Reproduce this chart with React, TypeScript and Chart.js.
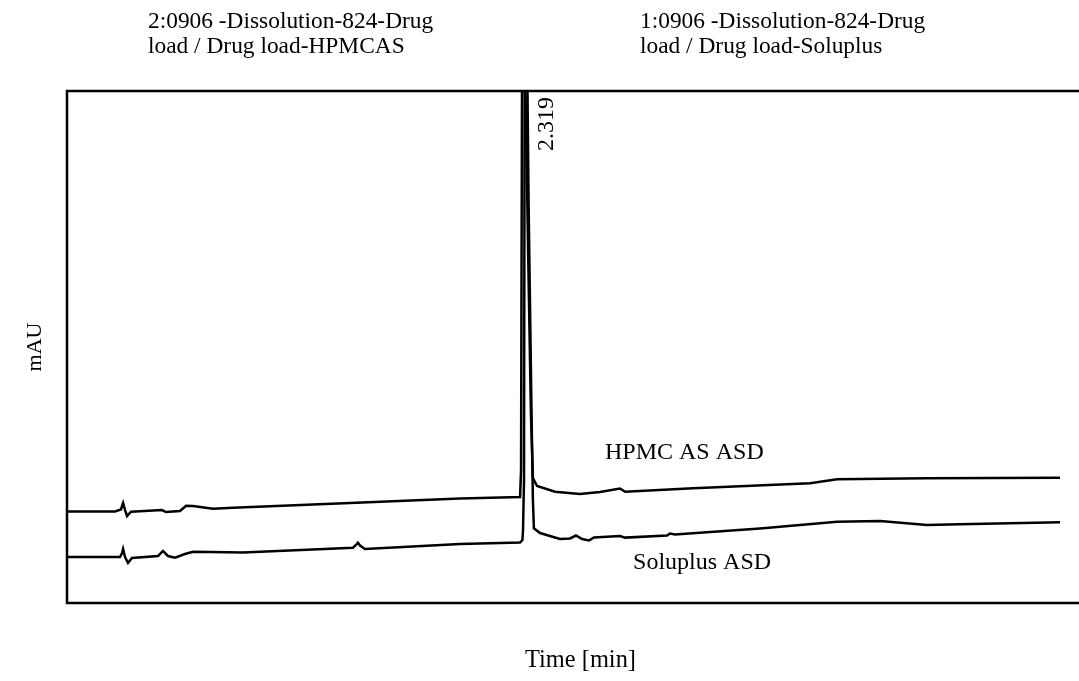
import React, { useEffect, useRef } from "react";
import { Chart, registerables } from "chart.js";

Chart.register(...registerables);

// Retention time (min) and absorbance (mAU) of the two traces
const hpmcTime = [
  0.0, 0.243, 0.273, 0.284, 0.294, 0.304, 0.324, 0.481, 0.501, 0.572, 0.603, 0.638,
  0.739, 0.841, 1.433, 1.99, 2.294, 2.299, 2.306, 2.339, 2.349, 2.359, 2.38, 2.471,
  2.597, 2.699, 2.8, 2.826, 3.170, 3.762, 3.899, 4.354, 5.028,
];
const hpmcValue = [
  17.87, 17.87, 18.26, 19.53, 18.16, 16.99, 17.83, 18.16, 17.77, 17.97, 19.0, 18.95,
  18.42, 18.61, 19.53, 20.41, 20.7, 25.98, 135.0, 59.2, 37.1, 24.4, 22.85, 21.74,
  21.29, 21.68, 22.37, 21.74, 22.4, 23.38, 24.16, 24.36, 24.48,
];

const soluplusTime = [
  0.0, 0.268, 0.279, 0.284, 0.294, 0.309, 0.329, 0.461, 0.486, 0.511, 0.547, 0.597,
  0.638, 0.891, 1.448, 1.463, 1.473, 1.484, 1.494, 1.509, 1.99, 2.294, 2.306, 2.309,
  2.314, 2.319, 2.337, 2.344, 2.352, 2.359, 2.364, 2.395, 2.496, 2.547, 2.577, 2.608,
  2.643, 2.668, 2.8, 2.826, 3.038, 3.053, 3.079, 3.509, 3.899, 4.117, 4.354, 4.521,
  5.028,
];
const soluplusValue = [
  8.98, 8.98, 9.77, 10.55, 8.98, 7.81, 8.79, 9.18, 10.16, 9.18, 8.85, 9.57,
  10.02, 9.86, 10.8, 11.33, 11.78, 11.23, 10.94, 10.55, 11.52, 11.82, 12.3, 14.26,
  24.02, 150.0, 78.7, 59.2, 37.1, 20.1, 14.6, 13.67, 12.5, 12.6, 13.18, 12.5,
  12.2, 12.79, 13.09, 12.77, 13.18, 13.57, 13.38, 14.55, 15.88, 16.02, 15.23, 15.37,
  15.76,
];

const seriesNames = ["HPMC AS ASD", "Soluplus ASD"];
const sampleTitles = [
  ["2:0906 -Dissolution-824-Drug", "load / Drug load-HPMCAS"],
  ["1:0906 -Dissolution-824-Drug", "load / Drug load-Soluplus"],
];
const peakTime = 2.319;
const xTitle = "Time [min]";
const yTitle = "mAU";

// Series label anchors in data units (time, mAU)
const labelTime = [2.724, 2.866];
const labelValue = [29.3, 7.8];

const FONT = '"Liberation Serif", "Times New Roman", serif';

const toPoints = (t: number[], v: number[]) => t.map((x, i) => ({ x, y: v[i] }));

export default function App() {
  const canvasRef = useRef<HTMLCanvasElement | null>(null);

  useEffect(() => {
    const canvas = canvasRef.current;
    if (!canvas) return;

    const textPlugin = {
      id: "chromatogramText",
      afterDatasetsDraw(chart: any) {
        const { ctx, chartArea, scales } = chart;
        const xs = scales.x;
        const ys = scales.y;
        ctx.save();

        // plot frame
        ctx.strokeStyle = "#000";
        ctx.lineWidth = 2.5;
        ctx.strokeRect(chartArea.left, chartArea.top, chartArea.right - chartArea.left, chartArea.bottom - chartArea.top);

        ctx.fillStyle = "#000";
        ctx.textBaseline = "alphabetic";
        ctx.textAlign = "left";

        // sample titles above the plot
        ctx.font = `23.4px ${FONT}`;
        const titleX = [148, 640];
        sampleTitles.forEach((lines, i) => {
          lines.forEach((line, j) => {
            ctx.fillText(line, titleX[i], 28 + j * 25);
          });
        });

        // series labels
        ctx.font = `24px ${FONT}`;
        ctx.textBaseline = "middle";
        seriesNames.forEach((name, i) => {
          ctx.fillText(name, xs.getPixelForValue(labelTime[i]), ys.getPixelForValue(labelValue[i]));
        });

        // peak retention time label
        ctx.save();
        ctx.translate(xs.getPixelForValue(peakTime) + 22, chartArea.top + 6);
        ctx.rotate(-Math.PI / 2);
        ctx.textAlign = "right";
        ctx.textBaseline = "middle";
        ctx.font = `24px ${FONT}`;
        ctx.fillText(peakTime.toFixed(3), 0, 0);
        ctx.restore();

        // axis titles
        ctx.textAlign = "center";
        ctx.textBaseline = "middle";
        ctx.font = `24.4px ${FONT}`;
        ctx.fillText(xTitle, (chartArea.left + chartArea.right) / 2, 661);
        ctx.save();
        ctx.translate(35, (chartArea.top + chartArea.bottom) / 2);
        ctx.rotate(-Math.PI / 2);
        ctx.font = `22px ${FONT}`;
        ctx.fillText(yTitle, 0, 0);
        ctx.restore();

        ctx.restore();
      },
    };

    const chart = new Chart(canvas, {
      type: "line",
      data: {
        datasets: [
          {
            label: seriesNames[0],
            data: toPoints(hpmcTime, hpmcValue),
            borderColor: "#000",
            borderWidth: 2.5,
            pointRadius: 0,
            tension: 0,
          },
          {
            label: seriesNames[1],
            data: toPoints(soluplusTime, soluplusValue),
            borderColor: "#000",
            borderWidth: 2.5,
            pointRadius: 0,
            tension: 0,
          },
        ],
      },
      options: {
        animation: false,
        responsive: false,
        layout: { padding: { left: 67, top: 91, right: 6, bottom: 78 } },
        plugins: { legend: { display: false }, tooltip: { enabled: false } },
        scales: {
          x: { type: "linear", min: 0, max: 5.2, display: false },
          y: { min: 0, max: 100, display: false },
        },
      },
      plugins: [textPlugin],
    });

    return () => chart.destroy();
  }, []);

  return (
    <div
      style={{
        position: "fixed",
        left: 0,
        top: 0,
        width: 1079,
        height: 681,
        overflow: "hidden",
        background: "#fff",
      }}
    >
      <canvas ref={canvasRef} width={1100} height={681} style={{ display: "block" }} />
    </div>
  );
}
